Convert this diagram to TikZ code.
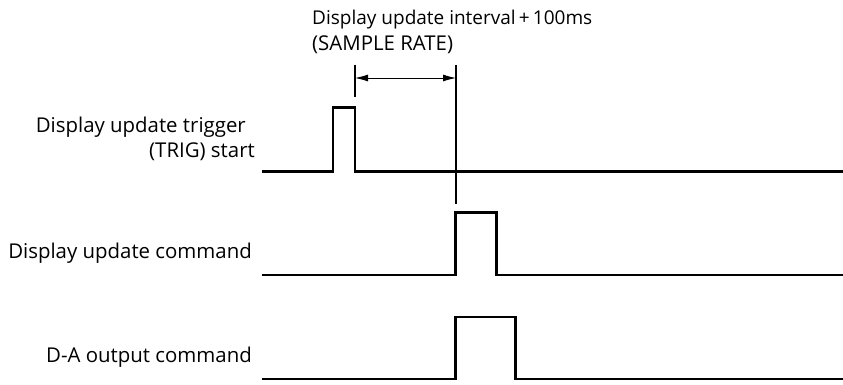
\documentclass[tikz,border=0pt]{standalone}
\usepackage{fontspec}
\setmainfont{Open Sans}
\usetikzlibrary{arrows.meta}
\begin{document}
\begin{tikzpicture}[x=1pt,y=-1pt,
  wave/.style={line width=2.6pt, line join=miter},
  marker/.style={line width=1.3pt},
  dim/.style={line width=0.9pt, {Latex[length=13pt,width=7pt]}-{Latex[length=13pt,width=7pt]}},
  lbl/.style={font=\fontsize{20.4}{24}\selectfont, inner sep=0pt},
  toplbl/.style={font=\fontsize{19}{23}\selectfont, inner sep=0pt}]
\useasboundingbox (0,0) rectangle (843,385);
% labels
\node[lbl, anchor=east] (l1a) at (246,127) {Display update trigger};
\node[lbl, anchor=east] (l1b) at (255,152) {(TRIG) start};
\node[lbl, anchor=east] (l2) at (252,253) {Display update command};
\node[lbl, anchor=east] (l3) at (252,357) {D-A output command};
\node[toplbl, anchor=west] (t1) at (312,20) {Display update interval\,+\,100ms};
\node[lbl, anchor=west] (t2) at (312,45) {(SAMPLE RATE)};
% waveforms
\draw[wave] (262,171.5) -- (333,171.5) -- (333,107.5) -- (355,107.5) -- (355,171.5) -- (843,171.5);
\draw[wave] (262,275) -- (455.5,275) -- (455.5,212.5) -- (496.5,212.5) -- (496.5,275) -- (843,275);
\draw[wave] (262,379) -- (455.5,379) -- (455.5,317) -- (515.5,317) -- (515.5,379) -- (843,379);
% markers
\coordinate (m1t) at (355,65);
\coordinate (m1b) at (355,97);
\coordinate (m2t) at (456,65);
\coordinate (m2b) at (456,204);
\coordinate (a1) at (355,78);
\coordinate (a2) at (456,78);
\draw[marker] (m1t) -- (m1b);
\draw[marker] (m2t) -- (m2b);
\draw[dim] (a1) -- (a2);
\end{tikzpicture}
\end{document}
